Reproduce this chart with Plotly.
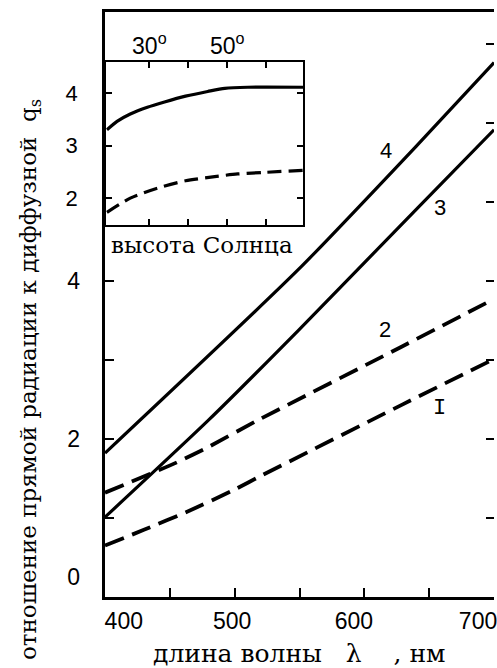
import plotly.graph_objects as go

# ---------------- data ----------------
# main chart: wavelength (nm) vs ratio of direct to diffuse radiation
wl_4 = [400, 549, 641, 700]
q_4 = [1.82, 4.14, 5.72, 6.76]

wl_3 = [400, 480, 549, 641, 700]
q_3 = [1.01, 2.24, 3.37, 4.92, 5.91]

wl_2 = [400, 455, 480, 516, 628, 700]
q_2 = [1.32, 1.70, 1.90, 2.22, 3.16, 3.77]

wl_1 = [400, 430, 465, 500, 520, 630, 700]
q_1 = [0.65, 0.85, 1.09, 1.36, 1.53, 2.44, 3.01]

# curve labels (text, wavelength, value)
curve_labels = ["4", "3", "2", "I"]
curve_label_wl = [616.6, 658.7, 615.8, 657.9]
curve_label_q = [5.65, 4.93, 3.38, 2.39]

# inset: sun elevation (deg) vs q
sun_solid = [19.1, 21.7, 25.1, 29.5, 33.9, 39.3, 45.0, 49.4, 55.3, 69.5]
q_solid = [3.30, 3.46, 3.60, 3.73, 3.83, 3.94, 4.03, 4.09, 4.11, 4.11]
sun_dash = [19.1, 25.1, 32.1, 39.3, 46.8, 52.7, 59.7, 69.5]
q_dash = [1.73, 2.00, 2.19, 2.33, 2.41, 2.46, 2.49, 2.53]

# ticks and tick labels
x_ticks = [450, 500, 550, 600, 650]
x_label_pos = [414.5, 498, 592, 687.7]
x_label_text = ["400", "500", "600", "700"]
y_ticks_left = [1, 2, 3, 4]
y_ticks_right = [1, 2, 3, 4, 5, 6, 7]
y_label_pos = [0.25, 2, 4]
y_label_text = ["0", "2", "4"]
inset_x_ticks = [30, 40, 50, 60]
inset_x_text = ["30<sup>o</sup>", "", "50<sup>o</sup>", ""]
inset_y_ticks = [2, 3, 4]

x_title = "длина волны\u00a0\u00a0 λ\u00a0\u00a0\u00a0 , нм"
y_title = "отношение прямой радиации к диффузной\u00a0 q<sub>s</sub>"
inset_title = "высота Солнца"

# ---------------- figure ----------------
NUM_FONT = "Liberation Sans, Arial, sans-serif"
TXT_FONT = "DejaVu Serif, serif"
MONO_FONT = "Liberation Mono, monospace"
BLACK = "#000000"

fig = go.Figure()

fig.add_trace(go.Scatter(x=wl_4, y=q_4, mode="lines",
                         line=dict(color=BLACK, width=3.2, shape="spline", smoothing=0.6),
                         showlegend=False, hoverinfo="skip"))
fig.add_trace(go.Scatter(x=wl_3, y=q_3, mode="lines",
                         line=dict(color=BLACK, width=3.2, shape="spline", smoothing=0.6),
                         showlegend=False, hoverinfo="skip"))
fig.add_trace(go.Scatter(x=wl_2, y=q_2, mode="lines",
                         line=dict(color=BLACK, width=3.8, dash="20px,9px", shape="spline", smoothing=0.6),
                         showlegend=False, hoverinfo="skip"))
fig.add_trace(go.Scatter(x=wl_1, y=q_1, mode="lines",
                         line=dict(color=BLACK, width=3.8, dash="20px,9px", shape="spline", smoothing=0.6),
                         showlegend=False, hoverinfo="skip"))

# inset curves
fig.add_trace(go.Scatter(x=sun_solid, y=q_solid, xaxis="x2", yaxis="y2", mode="lines",
                         line=dict(color=BLACK, width=3.2, shape="spline", smoothing=0.7),
                         showlegend=False, hoverinfo="skip"))
fig.add_trace(go.Scatter(x=sun_dash, y=q_dash, xaxis="x2", yaxis="y2", mode="lines",
                         line=dict(color=BLACK, width=3.2, dash="14px,7px", shape="spline", smoothing=0.7),
                         showlegend=False, hoverinfo="skip"))

# dummy traces so that overlay axes (labels / right ticks) are drawn
fig.add_trace(go.Scatter(x=[None], y=[None], xaxis="x3", yaxis="y", showlegend=False, hoverinfo="skip"))
fig.add_trace(go.Scatter(x=[None], y=[None], xaxis="x", yaxis="y3", showlegend=False, hoverinfo="skip"))
fig.add_trace(go.Scatter(x=[None], y=[None], xaxis="x", yaxis="y4", showlegend=False, hoverinfo="skip"))

XR = [400, 700]
YR = [0, 7.4]

fig.update_layout(
    width=497, height=668,
    margin=dict(l=105, r=0, t=12, b=71),
    paper_bgcolor="white", plot_bgcolor="white",
    showlegend=False,
    xaxis=dict(range=XR, domain=[0, 1], anchor="y", showgrid=False, zeroline=False,
               showline=True, linecolor=BLACK, linewidth=2.5, mirror=True,
               ticks="inside", tickvals=x_ticks, ticklen=9, tickwidth=2, tickcolor=BLACK,
               showticklabels=False),
    xaxis3=dict(range=XR, overlaying="x", anchor="y", side="bottom", showgrid=False,
                zeroline=False, showline=False, ticks="", tickvals=x_label_pos,
                ticktext=x_label_text, ticklabelstandoff=8, ticklabeloverflow="allow",
                tickfont=dict(family=NUM_FONT, size=23, color=BLACK)),
    yaxis=dict(range=YR, domain=[0, 1], anchor="x", showgrid=False, zeroline=False,
               showline=True, linecolor=BLACK, linewidth=2.5, mirror=False,
               ticks="inside", tickvals=y_ticks_left, ticklen=9, tickwidth=2, tickcolor=BLACK,
               showticklabels=False),
    yaxis3=dict(range=YR, overlaying="y", anchor="x", side="left", showgrid=False,
                zeroline=False, showline=False, ticks="", tickvals=y_label_pos,
                ticktext=y_label_text, ticklabelstandoff=24, ticklabeloverflow="allow",
                tickfont=dict(family=NUM_FONT, size=23, color=BLACK)),
    yaxis4=dict(range=YR, overlaying="y", anchor="x", side="right", showgrid=False,
                zeroline=False, showline=False, ticks="inside", tickvals=y_ticks_right,
                ticklen=8, tickwidth=2, tickcolor=BLACK, showticklabels=False),
    xaxis2=dict(range=[18.9, 69.6], domain=[0.003, 0.51], anchor="y2", side="top",
                showgrid=False, zeroline=False, showline=True, linecolor=BLACK, linewidth=2.2,
                mirror="ticks", ticks="inside", ticklen=6, tickwidth=2, tickcolor=BLACK,
                tickvals=inset_x_ticks, ticktext=inset_x_text, ticklabelstandoff=-3,
                ticklabeloverflow="allow",
                tickfont=dict(family=NUM_FONT, size=23, color=BLACK)),
    yaxis2=dict(range=[1.49, 4.59], domain=[0.636, 0.9145], anchor="x2",
                showgrid=False, zeroline=False, showline=True, linecolor=BLACK, linewidth=2.2,
                mirror="ticks", ticks="inside", ticklen=6, tickwidth=2, tickcolor=BLACK,
                tickvals=inset_y_ticks, ticklabelstandoff=22, ticklabeloverflow="allow",
                tickfont=dict(family=NUM_FONT, size=22, color=BLACK)),
)

annotations = []
for t, xv, yv in zip(curve_labels, curve_label_wl, curve_label_q):
    annotations.append(dict(
        text=t, x=xv, y=yv, xref="x", yref="y", showarrow=False,
        xanchor="center", yanchor="middle",
        font=dict(family=MONO_FONT if t == "I" else NUM_FONT, size=22, color=BLACK)))

annotations.append(dict(text=inset_title, x=0.25, y=0.602, xref="paper", yref="paper",
                        showarrow=False, xanchor="center", yanchor="middle",
                        font=dict(family=TXT_FONT, size=23, color=BLACK)))
annotations.append(dict(text=x_title, x=0.5, y=-0.097, xref="paper", yref="paper",
                        showarrow=False, xanchor="center", yanchor="middle",
                        font=dict(family=TXT_FONT, size=25, color=BLACK)))
annotations.append(dict(text=y_title, x=-0.191, y=0.372, xref="paper", yref="paper",
                        showarrow=False, xanchor="center", yanchor="middle", textangle=-90,
                        font=dict(family=TXT_FONT, size=23, color=BLACK)))
fig.update_layout(annotations=annotations)

fig.write_html("out.html")
